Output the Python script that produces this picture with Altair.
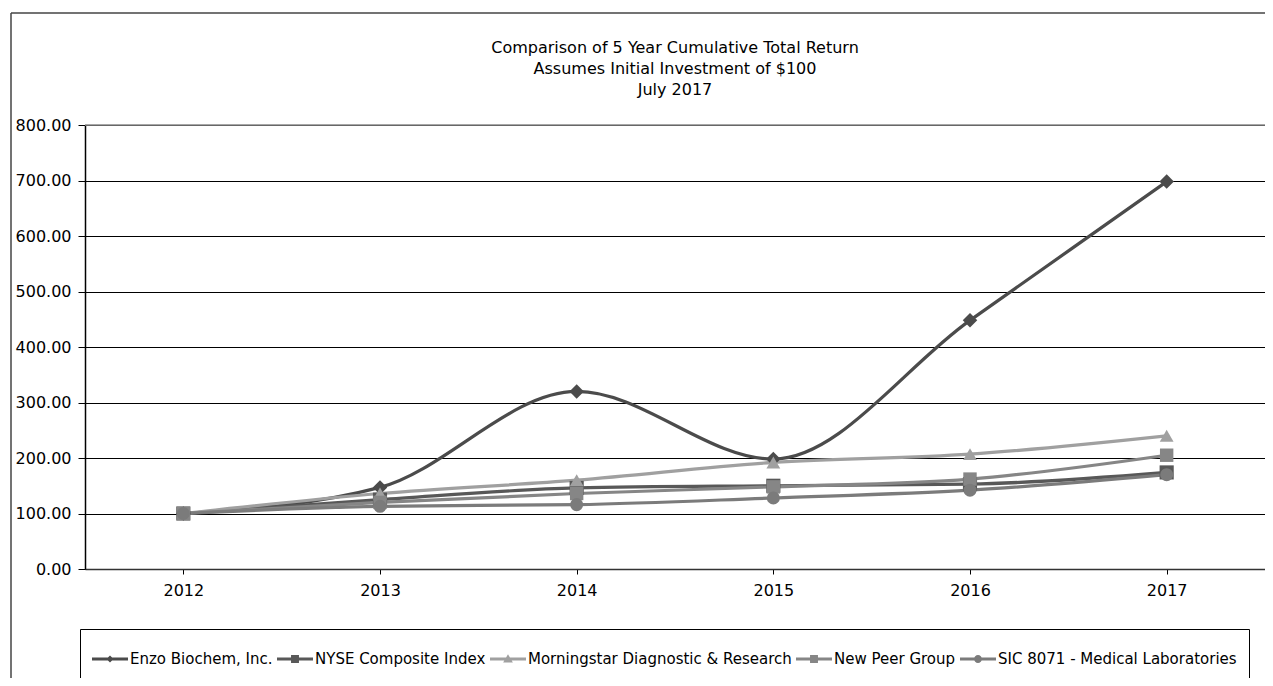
import altair as alt
import pandas as pd

# ---------------- data ----------------
years = ["2012", "2013", "2014", "2015", "2016", "2017"]
series_names = [
    "Enzo Biochem, Inc.",
    "NYSE Composite Index",
    "Morningstar Diagnostic & Research",
    "New Peer Group",
    "SIC 8071 - Medical Laboratories",
]
enzo = [100, 147, 320, 198, 448, 698]
nyse = [100, 125, 146, 150, 153, 174]
morningstar = [100, 136, 160, 192, 207, 240]
new_peer = [100, 120, 136, 148, 162, 205]
sic = [100, 113, 116, 128, 142, 170]
y_ticks = [0, 100, 200, 300, 400, 500, 600, 700, 800]
title_lines = [
    "Comparison of 5 Year Cumulative Total Return",
    "Assumes Initial Investment of $100",
    "July 2017",
]

# ---------------- styles ----------------
colors = ["#4b4b4b", "#585858", "#a0a0a0", "#868686", "#7b7b7b"]
marker_shapes = ["diamond", "square", "triangle-up", "square", "circle"]
marker_sizes = [210, 170, 240, 170, 190]
LINE = "M-1,-0.08H1V0.08H-1Z"
legend_shapes = [
    LINE + "M-0.2,0L0,-0.2L0.2,0L0,0.2Z",
    LINE + "M-0.22,-0.22H0.22V0.22H-0.22Z",
    LINE + "M0,-0.26L0.27,0.2H-0.27Z",
    LINE + "M-0.22,-0.22H0.22V0.22H-0.22Z",
    LINE + "M-0.22,0A0.22,0.22,0,1,1,0.22,0A0.22,0.22,0,1,1,-0.22,0Z",
]

all_values = [enzo, nyse, morningstar, new_peer, sic]
rows = []
for name, vals in zip(series_names, all_values):
    for yr, v in zip(years, vals):
        rows.append({"year": yr, "value": v, "series": name})
df = pd.DataFrame(rows)

W, H = 1180, 444
FONT = "DejaVu Sans"

x_enc = alt.X(
    "year:O",
    sort=years,
    scale=alt.Scale(type="point", padding=0.5),
    axis=alt.Axis(title=None, labelAngle=0, labelFont=FONT, labelFontSize=16,
                  labelColor="black", tickSize=5, tickColor="black",
                  domainColor="#333333", domainWidth=1.5, labelPadding=8, grid=False),
)
y_enc = alt.Y(
    "value:Q",
    scale=alt.Scale(domain=[0, 800], nice=False, zero=True),
    axis=alt.Axis(title=None, values=y_ticks, format=".2f", labelFont=FONT,
                  labelFontSize=16, labelColor="black", tickSize=7, tickColor="black",
                  domainColor="black", domainWidth=1.5, labelPadding=7,
                  grid=True, gridColor="black", gridWidth=1),
)

color_scale = alt.Scale(domain=series_names, range=colors)

leg = alt.Legend(
    orient="none", legendX=-5, legendY=504, direction="horizontal", columns=5,
    title=None, symbolSize=1296, symbolStrokeWidth=0, symbolOpacity=1,
    labelFont=FONT, labelFontSize=15, labelColor="black", labelLimit=0,
    labelOffset=2, columnPadding=4, padding=12, strokeColor="black",
    fillColor="white",
)

lines = alt.Chart(df).mark_line(strokeWidth=3.2, interpolate="monotone").encode(
    x=x_enc, y=y_enc,
    color=alt.Color("series:N", scale=color_scale, legend=None),
    detail="series:N",
)

markers = alt.Chart(df).mark_point(filled=True, opacity=1, strokeWidth=0).encode(
    x=x_enc, y=y_enc,
    color=alt.Color("series:N", scale=color_scale, legend=None),
    shape=alt.Shape("series:N", scale=alt.Scale(domain=series_names, range=marker_shapes), legend=None),
    size=alt.Size("series:N", scale=alt.Scale(domain=series_names, range=marker_sizes), legend=None),
)

legend_layer = alt.Chart(df).transform_filter("false").mark_point(
    filled=True, opacity=1, size=1296, strokeWidth=0
).encode(
    x=x_enc, y=y_enc,
    color=alt.Color("series:N", scale=color_scale, legend=leg),
    shape=alt.Shape("series:N", scale=alt.Scale(domain=series_names, range=legend_shapes), legend=leg),
)

frame_df = pd.DataFrame({"k": [0]})
frame_left = alt.Chart(frame_df).mark_rule(color="#444444", strokeWidth=1.5).encode(
    x=alt.value(-74), y=alt.value(-112), y2=alt.value(H + 150)
)
frame_top = alt.Chart(frame_df).mark_rule(color="#444444", strokeWidth=1.5).encode(
    x=alt.value(-74), x2=alt.value(W + 40), y=alt.value(-112)
)
top_border = alt.Chart(frame_df).mark_rule(color="#8a8a8a", strokeWidth=1.5).encode(
    x=alt.value(0), x2=alt.value(W), y=alt.value(0)
)

chart = alt.layer(frame_left, frame_top, lines, markers, legend_layer, top_border).resolve_scale(
    color="independent", shape="independent", size="independent"
).properties(
    width=W, height=H,
    autosize="none",
    padding={"left": 77, "top": 117, "right": 0, "bottom": 109},
    title=alt.Title(text=title_lines, anchor="middle", font=FONT, fontSize=16,
                    fontWeight="normal", color="black", lineHeight=21, offset=-86),
).configure_view(stroke="#8a8a8a", strokeWidth=1.5).configure(background="white")

chart.save("out.html", embed_options={"renderer": "svg", "actions": False})
